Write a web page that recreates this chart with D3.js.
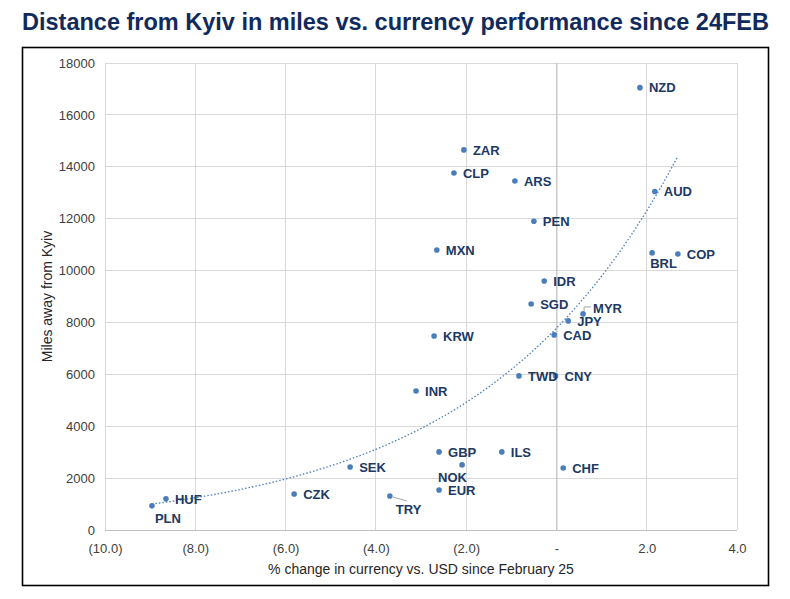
<!DOCTYPE html>
<html lang="en">
<head>
    <meta charset="utf-8">
    <title>Distance from Kyiv vs. currency performance</title>
    <script src="https://d3js.org/d3.v7.min.js" charset="utf-8"></script>
    <style>
        body { margin: 0; background: #fff; }
        svg { font-family: "Liberation Sans", Arial, sans-serif; }
        .grid line { stroke: #d9d9d9; stroke-width: 1; shape-rendering: crispEdges; }
        .tick text { font-size: 13px; fill: #404040; }
        .lbl { font-size: 13px; font-weight: bold; fill: #203864; }
    </style>
</head>
<body>
<script>

    // currency codes and values
    var currencies = ["NZD","ZAR","CLP","ARS","PEN","AUD","MXN","BRL","COP","IDR","SGD","MYR","JPY","CAD","KRW","TWD","CNY","INR","GBP","ILS","NOK","EUR","CHF","SEK","CZK","TRY","HUF","PLN"]
    var pctChange = [1.85,-2.05,-2.27,-0.92,-0.50,2.18,-2.65,2.12,2.69,-0.27,-0.56,0.59,0.26,-0.05,-2.71,-0.83,-0.02,-3.11,-2.60,-1.21,-2.09,-2.60,0.15,-4.57,-5.81,-3.69,-8.65,-8.96]
    var miles = [17050,14650,13760,13450,11900,13050,10790,10680,10640,9600,8710,8330,8060,7520,7480,5940,5940,5360,3010,3010,2510,1540,2390,2430,1390,1310,1200,930]

    var xTicks = [-10,-8,-6,-4,-2,0,2,4]
    var yTicks = [0,2000,4000,6000,8000,10000,12000,14000,16000,18000]

    // label placement tweaks (default: right of point)
    var labelPos = {
        BRL: [-2, 10], PLN: [3, 12], NOK: [-24, 12], TRY: [6, 13], MYR: [10, -6]
    }

    var w = 790, h = 599
    var pL = 105, pR = 737, pT = 63, pB = 530

    var svg = d3.select("body").append("svg").attr("width", w).attr("height", h)

    svg.append("text")
        .attr("x", 22).attr("y", 30)
        .attr("textLength", 747).attr("lengthAdjust", "spacingAndGlyphs")
        .style("font-size", "24px").style("font-weight", "bold").style("fill", "#112a5c")
        .text("Distance from Kyiv in miles vs. currency performance since 24FEB")

    svg.append("rect")
        .attr("x", 22.5).attr("y", 47.5).attr("width", 746).attr("height", 538)
        .attr("fill", "none").attr("stroke", "#000").attr("stroke-width", 1.6)

    var xScale = d3.scaleLinear().domain([-10, 4]).range([pL, pR])
    var yScale = d3.scaleLinear().domain([0, 18000]).range([pB, pT])

    var grid = svg.append("g").attr("class", "grid")
    grid.selectAll(".gx").data(xTicks).enter().append("line")
        .attr("x1", d => xScale(d)).attr("x2", d => xScale(d))
        .attr("y1", pT).attr("y2", pB)
    grid.selectAll(".gy").data(yTicks).enter().append("line")
        .attr("x1", pL).attr("x2", pR)
        .attr("y1", d => yScale(d)).attr("y2", d => yScale(d))

    // axis lines: bottom and the zero line
    svg.append("line").attr("x1", pL).attr("x2", pR).attr("y1", pB + 0.5).attr("y2", pB + 0.5)
        .attr("stroke", "#bfbfbf").attr("stroke-width", 1)
    svg.append("line").attr("x1", xScale(0) + 0.5).attr("x2", xScale(0) + 0.5).attr("y1", pT).attr("y2", pB)
        .attr("stroke", "#bfbfbf").attr("stroke-width", 1)

    function fmtX(d) {
        if (d === 0) return "-"
        if (d < 0) return "(" + Math.abs(d).toFixed(1) + ")"
        return d.toFixed(1)
    }

    var xAxis = d3.axisBottom(xScale).tickValues(xTicks).tickFormat(fmtX).tickSize(0).tickPadding(14)
    var yAxis = d3.axisLeft(yScale).tickValues(yTicks).tickFormat(d3.format("d")).tickSize(0).tickPadding(10)

    svg.append("g").attr("transform", "translate(0," + pB + ")").call(xAxis)
        .call(g => g.select(".domain").remove())
    svg.append("g").attr("transform", "translate(" + pL + ",0)").call(yAxis)
        .call(g => g.select(".domain").remove())

    svg.append("text")
        .attr("x", 421).attr("y", 574).attr("text-anchor", "middle")
        .style("font-size", "14px").style("fill", "#262626")
        .text("% change in currency vs. USD since February 25")

    svg.append("text")
        .attr("transform", "translate(52," + ((pT + pB) / 2) + ") rotate(-90)")
        .attr("text-anchor", "middle")
        .style("font-size", "14px").style("fill", "#262626")
        .text("Miles away from Kyiv")

    var data = currencies.map(function (c, i) {
        return { code: c, x: pctChange[i], y: miles[i] }
    })

    // exponential trendline, least squares on ln(y)
    var n = data.length
    var sx = d3.sum(data, d => d.x), sl = d3.sum(data, d => Math.log(d.y))
    var sxx = d3.sum(data, d => d.x * d.x), sxl = d3.sum(data, d => d.x * Math.log(d.y))
    var b = (n * sxl - sx * sl) / (n * sxx - sx * sx)
    var a = Math.exp((sl - b * sx) / n)
    var xmin = d3.min(pctChange), xmax = d3.max(pctChange)
    var trend = d3.range(0, 101).map(i => {
        var xv = xmin + (xmax - xmin) * i / 100
        return [xv, a * Math.exp(b * xv)]
    })
    var line = d3.line().x(d => xScale(d[0])).y(d => yScale(d[1]))
    svg.append("path").datum(trend).attr("d", line)
        .attr("fill", "none").attr("stroke", "#4a7ebb").attr("stroke-width", 1.3)
        .attr("stroke-dasharray", "1.5,2")

    // leader lines
    var lead = svg.append("g").attr("stroke", "#a6a6a6").attr("fill", "none").attr("stroke-width", 1)
    var tr = data.find(d => d.code === "TRY")
    lead.append("line").attr("x1", xScale(tr.x) + 3).attr("y1", yScale(tr.y) + 1)
        .attr("x2", xScale(tr.x) + 17).attr("y2", yScale(tr.y) + 5)
    var my = data.find(d => d.code === "MYR")
    lead.append("path").attr("d", "M" + (xScale(my.x) + 1) + "," + (yScale(my.y) - 3) +
        "V" + (yScale(my.y) - 7) + "H" + (xScale(my.x) + 8))

    svg.append("g").selectAll("circle").data(data).enter().append("circle")
        .attr("cx", d => xScale(d.x)).attr("cy", d => yScale(d.y)).attr("r", 2.8)
        .attr("fill", "#4a7ebb")

    svg.append("g").selectAll("text").data(data).enter().append("text")
        .attr("class", "lbl")
        .attr("x", d => xScale(d.x) + (labelPos[d.code] ? labelPos[d.code][0] : 9))
        .attr("y", d => yScale(d.y) + (labelPos[d.code] ? labelPos[d.code][1] : 0))
        .attr("dy", "0.36em")
        .text(d => d.code)

</script>
</body>
</html>
